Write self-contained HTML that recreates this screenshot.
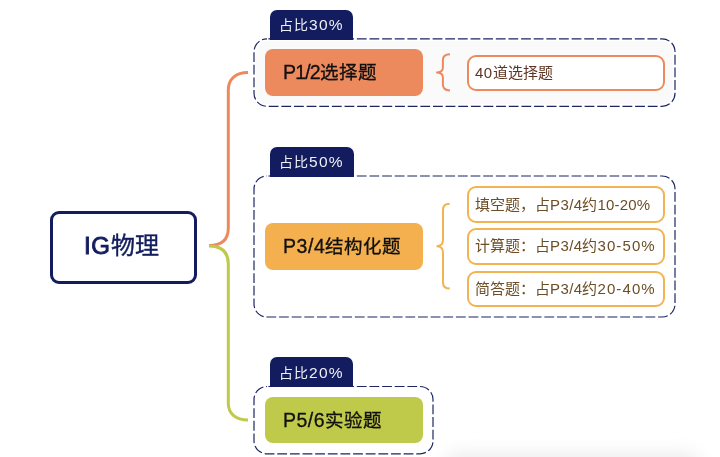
<!DOCTYPE html>
<html lang="zh-CN"><head><meta charset="utf-8">
<style>
html,body{margin:0;padding:0;background:#fff;}
body{width:720px;height:457px;position:relative;overflow:hidden;font-family:"Liberation Sans",sans-serif;}
.abs{position:absolute;box-sizing:border-box;}
.t{position:absolute;white-space:nowrap;will-change:transform;}
.tab{background:#131c5f;border-radius:7px 7px 0 0;}
.tt{color:#eef0f6;font-size:14px;line-height:16px;letter-spacing:1px;}
.tt i{font-style:normal;letter-spacing:1.3px;font-size:15.5px;}
.box{border-radius:8px;}
.bt{color:#101010;font-size:18.5px;line-height:20px;-webkit-text-stroke:0.3px #101010;}
.bt i{font-style:normal;letter-spacing:0.8px;font-size:19.5px;}
.leaf{border:2px solid #f4b352;border-radius:9px;background:#fff;}
.lt{color:#6c4d25;font-size:15px;line-height:16px;}
.lt i{font-style:normal;letter-spacing:0.4px;}
.root{border:3px solid #131c5f;border-radius:9px;background:#fff;}
.rt{color:#131c5f;font-size:24px;font-weight:bold;line-height:26px;}
svg{position:absolute;left:0;top:0;}
</style></head><body>
<div style="position:absolute;left:445px;top:454px;width:255px;height:24px;background:#ebebeb;filter:blur(9px);border-radius:12px;"></div>
<svg width="720" height="457" viewBox="0 0 720 457">
  <rect x="256.3" y="41.1" width="416.4" height="62.9" rx="11" fill="#fafafa"/>
  <rect x="254" y="38.8" width="421" height="67.5" rx="13" fill="none" stroke="#1d2563" stroke-width="1.2" stroke-dasharray="9.8 2.835" stroke-dashoffset="11.25"/>
  <rect x="254" y="176" width="421" height="141" rx="13" fill="#fff" stroke="#1d2563" stroke-width="1.2" stroke-dasharray="9.8 2.835" stroke-dashoffset="11.25"/>
  <rect x="254" y="386.5" width="179" height="67.3" rx="13" fill="#fff" stroke="#1d2563" stroke-width="1.2" stroke-dasharray="9.8 2.835" stroke-dashoffset="11.25"/>
  <path d="M209 245.5 C222 245.5 228.3 240 228.3 228 L228.3 90 C228.3 79 236 72.6 248 72.6" fill="none" stroke="#ec8a5e" stroke-width="3"/>
  <path d="M209 246 C222 246 228.3 252 228.3 264 L228.3 403 C228.3 414 236 420 248 420" fill="none" stroke="#bfc94a" stroke-width="3"/>
  <path d="M450 54.3 C446 54.3 442.9 55.8 442.9 60 L442.9 67.5 C442.9 70.8 440.5 72.4 436.2 72.4 C440.5 72.4 442.9 74 442.9 77.3 L442.9 84.6 C442.9 88.8 446 90.4 450 90.4" fill="none" stroke="#ec8a5e" stroke-width="2"/>
  <path d="M449.7 203.8 C445.5 203.8 443 206 443 210 L443 240 C443 244 440.5 246.2 436.5 246.2 C440.5 246.2 443 248.5 443 252.5 L443 282.5 C443 286.5 445.5 288.6 449.7 288.6" fill="none" stroke="#f4b352" stroke-width="2"/>
</svg>

<div class="abs root" style="left:50px;top:211px;width:146.7px;height:72.8px;"></div>
<div class="t rt" style="left:84.4px;top:233.3px;"><i style="font-style:normal;letter-spacing:0.6px;font-weight:normal;-webkit-text-stroke:0.9px #131c5f">IG</i><b style="font-weight:500;-webkit-text-stroke:0.4px #131c5f">物理</b></div>

<div class="abs tab" style="left:269.6px;top:10px;width:83.7px;height:29.5px;"></div>
<div class="t tt" style="left:278.8px;top:17px;">占比<i>30%</i></div>
<div class="abs box" style="left:264.5px;top:49.4px;width:158.3px;height:46.4px;background:#ec8a5e;"></div>
<div class="t bt" style="left:283px;top:61.8px;"><i style="letter-spacing:-0.8px">P1/2</i>选择题</div>
<div class="abs leaf" style="left:467px;top:54.9px;width:198.2px;height:36.2px;border-color:#ec8a5e;"></div>
<div class="t lt" style="left:475px;top:64.5px;color:#5e3422;"><i>40</i>道选择题</div>

<div class="abs tab" style="left:269.6px;top:147px;width:84px;height:29.7px;"></div>
<div class="t tt" style="left:278.8px;top:154px;">占比<i>50%</i></div>
<div class="abs box" style="left:264.5px;top:223px;width:158px;height:46.5px;background:#f4b04e;"></div>
<div class="t bt" style="left:283px;top:235.6px;"><i style="letter-spacing:0.55px">P3/4</i>结构化题</div>
<div class="abs leaf" style="left:467px;top:185.9px;width:198.2px;height:37px;"></div>
<div class="t lt" style="left:474.5px;top:196.5px;">填空题，占<i>P3/4</i>约<i style="letter-spacing:0.2px">10-20%</i></div>
<div class="abs leaf" style="left:467px;top:227.9px;width:198.2px;height:37px;"></div>
<div class="t lt" style="left:474.5px;top:238.4px;">计算题：占<i>P3/4</i>约<i style="letter-spacing:1.1px">30-50%</i></div>
<div class="abs leaf" style="left:467px;top:270.7px;width:198.2px;height:36.2px;"></div>
<div class="t lt" style="left:474.5px;top:280.6px;">简答题：占<i>P3/4</i>约<i style="letter-spacing:1.1px">20-40%</i></div>

<div class="abs tab" style="left:269.5px;top:357.2px;width:83.5px;height:30px;"></div>
<div class="t tt" style="left:278.8px;top:365px;">占比<i>20%</i></div>
<div class="abs box" style="left:264.5px;top:397.2px;width:158.3px;height:46.1px;background:#bfc94a;"></div>
<div class="t bt" style="left:283px;top:409.6px;"><i style="letter-spacing:0.5px">P5/6</i>实验题</div>
</body></html>
